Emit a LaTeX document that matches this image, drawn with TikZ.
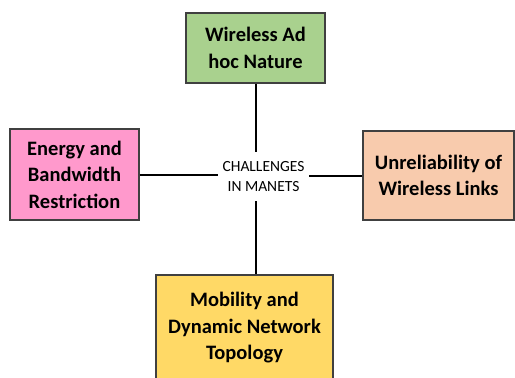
\documentclass[tikz,border=0pt]{standalone}
\usepackage{fontspec}
\setmainfont{Carlito}
\usepackage{tikz}
\usetikzlibrary{positioning}
\usepackage{xcolor}

\begin{document}
\begin{tikzpicture}[x=1pt, y=-1pt, every node/.style={font=\fontsize{20.5}{26.5}\selectfont\bfseries}]
	% Define colors
	\definecolor{adhocgreen}{RGB}{169, 209, 142}
	\definecolor{energypink}{RGB}{255, 153, 204}
	\definecolor{linkpeach}{RGB}{248, 203, 173}
	\definecolor{mobyellow}{RGB}{255, 217, 102}
	\definecolor{boxedge}{RGB}{64, 64, 64}

	% Styles
	\tikzstyle{challenge_box} = [draw=boxedge, line width=1.3pt, align=center, inner sep=0pt]
	\tikzstyle{hub_text} = [font=\fontsize{15.5}{19.5}\selectfont, align=center, minimum width=91pt, minimum height=49pt, inner sep=0pt]
	\tikzstyle{link_line} = [line width=2pt, black]

	% Page and clip
	\useasboundingbox (0, 0) rectangle (515, 378);
	\clip (0, 0) rectangle (515, 378);
	\fill[white] (0, 0) rectangle (515, 378);

	% Centre text
	\node[hub_text] (hub) at (263.5, 176.5) {CHALLENGES\\IN MANETS};

	% Challenge boxes
	\node[challenge_box, fill=adhocgreen, minimum width=139pt, minimum height=70pt] (adhoc) at (255.5, 48) {Wireless Ad\\hoc Nature};
	\node[challenge_box, fill=energypink, minimum width=129pt, minimum height=91pt] (energy) at (74.5, 174.5) {Energy and\\Bandwidth\\Restriction};
	\node[challenge_box, fill=linkpeach, minimum width=151pt, minimum height=89pt] (links) at (438.5, 175.5) {Unreliability of\\Wireless Links};
	\node[challenge_box, fill=mobyellow, minimum width=177pt, minimum height=106pt] (mobility) at (244.5, 328) {Mobility and\\Dynamic Network\\Topology};

	% Connectors
	\draw[link_line] (adhoc.south) -- (adhoc.south |- hub.north);
	\draw[link_line] (hub.south -| adhoc.south) -- (mobility.north -| adhoc.south);
	\draw[link_line] (energy.east) -- (energy.east -| hub.west);
	\draw[link_line] (hub.east |- links.west) -- (links.west);

\end{tikzpicture}
\end{document}
